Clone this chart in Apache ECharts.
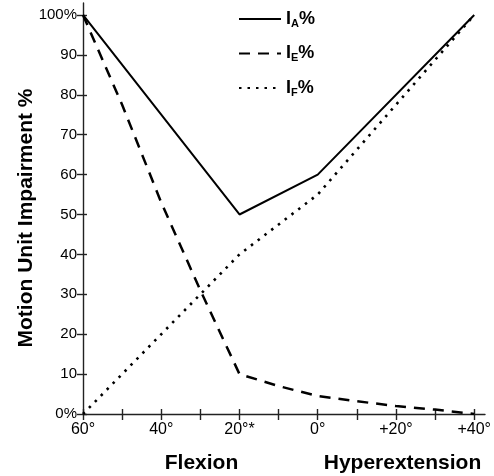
<!DOCTYPE html>
<html><head><meta charset="utf-8">
<script src="https://cdn.jsdelivr.net/npm/echarts@6/dist/echarts.min.js"></script>
<style>html,body{margin:0;padding:0;background:#fff}#c{width:494px;height:476px}</style>
</head><body><div id="c"></div>
<script>
// ---- data ----
const xTickPositions = [0,1,2,3,4,5,6,7,8,9,10];
const xLabelPositions = [0,2,4,6,8,10];
const xTickLabels = ['60°','40°','20°*','0°','+20°','+40°'];
const yTickValues = [0,10,20,30,40,50,60,70,80,90,100];
const yTickLabels = ['0%','10','20','30','40','50','60','70','80','90','100%'];
const seriesNames = ['IA%','IE%','IF%'];
const seriesSubs = ['A','E','F'];
const iaX = [0,4,6,10];
const iaY = [100,50,60,100];
const ieX = [0,1,2,3,4,5,6,7,8,9,10];
const ieY = [100,77.5,53,31,10,7,4.5,3.2,2,1.1,0];
const ifX = [0,4,6,10];
const ifY = [0,40,55,100];
const yAxisTitle = 'Motion Unit Impairment %';
const xTitleLeft = 'Flexion';
const xTitleRight = 'Hyperextension';

const pairs = (xs, ys) => xs.map((x, i) => [x, ys[i]]);
const AX = '#222';
const FONT = '"Liberation Sans", Arial, sans-serif';

const chart = echarts.init(document.getElementById('c'), null, {renderer: 'canvas'});
const baseX = {
  type: 'value', min: 0, max: 10.275, position: 'bottom', gridIndex: 0,
  splitLine: {show: false}
};
const baseY = {
  type: 'value', min: 0, max: 103, position: 'left', gridIndex: 0,
  splitLine: {show: false}
};
chart.setOption({
  animation: false,
  backgroundColor: '#fff',
  grid: {left: 83, right: 0, top: 3, bottom: 62, containLabel: false},
  xAxis: [
    Object.assign({}, baseX, {
      axisLine: {show: true, lineStyle: {color: AX, width: 1.4}},
      axisTick: {show: true, inside: false, length: 6, lineStyle: {color: AX, width: 1.4}, customValues: xTickPositions},
      axisLabel: {show: true, margin: 8, color: '#000', fontFamily: FONT, fontSize: 16,
        customValues: xLabelPositions,
        formatter: v => { const i = xLabelPositions.indexOf(Math.round(v)); return i >= 0 ? xTickLabels[i] : ''; }}
    }),
    Object.assign({}, baseX, {
      axisLine: {show: false},
      axisTick: {show: true, inside: true, length: 5, lineStyle: {color: AX, width: 1.4}, customValues: xTickPositions},
      axisLabel: {show: false}
    })
  ],
  yAxis: [
    Object.assign({}, baseY, {
      axisLine: {show: true, lineStyle: {color: AX, width: 1.4}},
      axisTick: {show: true, inside: false, length: 6, lineStyle: {color: AX, width: 1.4}, customValues: yTickValues},
      axisLabel: {show: true, margin: 6, color: '#000', fontFamily: FONT, fontSize: 15,
        customValues: yTickValues,
        formatter: v => { const i = yTickValues.indexOf(Math.round(v)); return i >= 0 ? yTickLabels[i] : ''; }}
    }),
    Object.assign({}, baseY, {
      axisLine: {show: false},
      axisTick: {show: true, inside: true, length: 4, lineStyle: {color: AX, width: 1.4}, customValues: yTickValues},
      axisLabel: {show: false}
    })
  ],
  legend: {
    data: seriesNames, orient: 'vertical', left: 238, top: 10, padding: 0,
    itemWidth: 42, itemHeight: 14, itemGap: 15.5, selectedMode: false,
    itemStyle: {opacity: 0, borderWidth: 0},
    formatter: name => '{b|I}{s|' + seriesSubs[seriesNames.indexOf(name)] + '}{b|%}',
    textStyle: {
      color: '#000',
      rich: {
        b: {fontFamily: FONT, fontWeight: 'bold', fontSize: 18, lineHeight: 20, color: '#000'},
        s: {fontFamily: FONT, fontWeight: 'bold', fontSize: 11, lineHeight: 8, verticalAlign: 'bottom', color: '#000'}
      }
    }
  },
  series: [
    {name: seriesNames[0], type: 'line', data: pairs(iaX, iaY), symbol: 'none', silent: true,
      lineStyle: {color: '#000', width: 2, type: 'solid'}, itemStyle: {color: '#000'}},
    {name: seriesNames[1], type: 'line', data: pairs(ieX, ieY), symbol: 'none', silent: true,
      lineStyle: {color: '#000', width: 2.5, type: [11, 8]}, itemStyle: {color: '#000'}},
    {name: seriesNames[2], type: 'line', data: pairs(ifX, ifY), symbol: 'none', silent: true,
      lineStyle: {color: '#000', width: 2.6, type: [2.5, 6]}, itemStyle: {color: '#000'}}
  ],
  graphic: [
    {type: 'text', x: 26, y: 218, rotation: Math.PI / 2, silent: true,
      style: {text: yAxisTitle, align: 'center', verticalAlign: 'middle', fill: '#000',
        font: 'bold 21px ' + FONT}},
    {type: 'text', x: 201.5, y: 463, silent: true,
      style: {text: xTitleLeft, align: 'center', verticalAlign: 'middle', fill: '#000',
        font: 'bold 21px ' + FONT}},
    {type: 'text', x: 402.5, y: 463, silent: true,
      style: {text: xTitleRight, align: 'center', verticalAlign: 'middle', fill: '#000',
        font: 'bold 21px ' + FONT}}
  ]
});
</script></body></html>
